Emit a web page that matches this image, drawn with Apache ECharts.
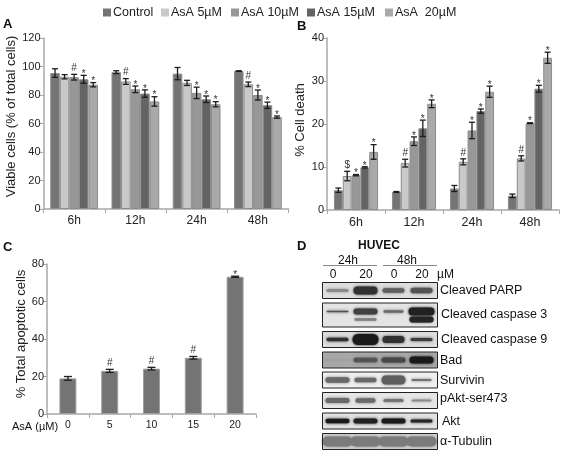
<!DOCTYPE html>
<html><head><meta charset="utf-8">
<style>html,body{margin:0;padding:0;background:#fff}#c{width:563px;height:453px}</style>
<script src="https://cdn.jsdelivr.net/npm/echarts@6/dist/echarts.min.js"></script>
</head><body><div id="c"></div>
<script>
const timepoints = ['6h','12h','24h','48h'];
const doseNames = ['Control','AsA 5µM','AsA 10µM','AsA 15µM','AsA  20µM'];
const doseColors = ['#747474','#c9c9c9','#989898','#646464','#a9a9a9'];

// Panel A: viable cells
const viableControl = [95.4, 96, 95, 96.8];
const viable5 = [92.8, 89.5, 88.5, 87.5];
const viable10 = [92.5, 84, 81.5, 80];
const viable15 = [91, 81, 77, 72.8];
const viable20 = [87.2, 75.5, 73.5, 64.5];
const viableErr = [[3,1,4.3,0.2],[1.5,2,1.8,1.6],[2,2.3,4,3.5],[2.8,2.6,2.3,2.2],[1.5,3.3,1.8,0.8]];
const viableMarks = [['','','',''],['','#','','#'],['#','*','*','*'],['*','*','*','*'],['*','*','*','*']];

// Panel B: cell death
const deathControl = [4.6, 4.2, 5, 3.3];
const death5 = [7.9, 10.9, 11.2, 12];
const death10 = [8.1, 16, 18.5, 20.2];
const death15 = [9.9, 19, 23, 28.2];
const death20 = [13.5, 24.7, 27.5, 35.4];
const deathErr = [[0.5,0.1,0.7,0.4],[1.1,0.9,0.7,0.6],[0.15,1,1.9,0.1],[0.15,1.9,0.5,0.8],[1.7,0.9,1.3,1.3]];
const deathMarks = [['','','',''],['$','#','#','#'],['*','*','*','*'],['*','*','*','*'],['*','*','*','*']];

// Panel C: apoptosis
const asaDoses = ['0','5','10','15','20'];
const apoptotic = [19, 23, 24.2, 30, 73.2];
const apoptoticErr = [1, 0.8, 0.7, 0.7, 0.3];
const apoptoticMarks = ['','#','#','#','*'];

// Panel D: blot names and band darkness per lane
const blotNames = ['Cleaved PARP','Cleaved caspase 3','Cleaved caspase 9','Bad','Survivin','pAkt-ser473','Akt','α-Tubulin'];
const blotDarkness = [
  [0.45,0.85,0.65,0.7],
  [0.7,0.78,0.6,0.92],
  [0.85,0.95,0.85,0.8],
  [0.35,0.7,0.75,0.95],
  [0.6,0.6,0.65,0.55],
  [0.6,0.6,0.55,0.45],
  [0.95,0.92,0.95,0.9],
  [0.52,0.52,0.52,0.52]
];
const blotLower = [null,[0,0.5,0,0.9],null,null,null,null,null,null];

// ---- layout ----
const FONT = '"Liberation Sans", Arial, sans-serif';
const blotTop = [282.5,303,331.5,352,372,392.5,413,433.5];
const blotHeight = [16,24,16,16,16,16,16,16];
const blotBg = ['#dedede','#e4e4e4','#dcdcdc','#a8a8a8','#efefef','#e6e6e6','#e2e2e2','#d2d2d2'];
const laneX = [337.5,365.5,393.5,421.5];
const bandRx = [[11,12,11,11],[11,12,10,13],[11,13,11,11],[11,12,12,12],[12,11,12,10],[12,10,10,10],[12,12,12,11],[15,15,15,15]];
const bandRy = [[1.5,4,2.2,2.8],[0.8,3,1.2,4],[1.8,5.5,3.5,1.5],[1.5,2.2,2.5,3.5],[2.8,2.2,4.5,1],[2.5,2.2,1.5,1],[2.2,2.5,2.5,1.5],[5,5,5,5]];
const labelY = [291,315,340,361,381,399,422,442];
const legendLeft = [98,156,226,302,380];

function errorSeries(xi, yi, rows, gapFrac, capW){
  return {
    type:'custom', xAxisIndex:xi, yAxisIndex:yi, clip:false, z:5, silent:true,
    data: rows,
    encode:{x:0,y:1},
    renderItem(params, api){
      const cat = api.value(0), val = api.value(1), err = api.value(2);
      const slot = api.value(3), nSlots = api.value(4);
      const mark = rows[params.dataIndex][5];
      const barW = api.size([1,0])[0]*(1-gapFrac)/nSlots;
      const c = api.coord([cat,val]);
      const x = c[0] + (slot-(nSlots-1)/2)*barW;
      const yTop = api.coord([cat,val+err])[1];
      const yBot = api.coord([cat,val-err])[1];
      const ls = {stroke:'#1c1c1c',lineWidth:1.3};
      const ch = [
        {type:'line',shape:{x1:x,y1:yTop,x2:x,y2:yBot},style:ls},
        {type:'line',shape:{x1:x-capW/2,y1:yTop,x2:x+capW/2,y2:yTop},style:ls},
        {type:'line',shape:{x1:x-capW/2,y1:yBot,x2:x+capW/2,y2:yBot},style:ls}
      ];
      if(mark){
        const off = mark==='*' ? 5 : 0;
        ch.push({type:'text',style:{text:mark,x:x,y:yTop-1+off,align:'center',verticalAlign:'bottom',
          font:'10px '+FONT,fill:'#333'}});
      }
      return {type:'group',children:ch};
    }
  };
}
function groupedRows(seriesList, errs, marks){
  const out=[];
  seriesList.forEach((s,i)=>s.forEach((v,j)=>out.push([j,v,errs[i][j],i,seriesList.length,marks[i][j]])));
  return out;
}
function barSeries(list,xi,yi,gap){
  return list.map((d,i)=>({type:'bar',name:doseNames[i],xAxisIndex:xi,yAxisIndex:yi,data:d,
    barGap:0,barCategoryGap:gap,itemStyle:{color:doseColors[i],borderColor:'#8c8c8c',borderWidth:1}}));
}
const axisLine={lineStyle:{color:'#a8a8a8',width:1.5}};
const axisTick={length:4,lineStyle:{color:'#a8a8a8',width:1}};

function xAxis(idx,data,size){
  return {type:'category',gridIndex:idx,data:data,axisLine:{show:true,onZero:false,...axisLine},axisTick:{show:true,alignWithLabel:false,...axisTick},
    axisLabel:{color:'#222',fontFamily:FONT,fontSize:size,margin:6,interval:0},splitLine:{show:false}};
}
function yAxis(idx,max,interval,name,gap,size,pad){
  return {type:'value',gridIndex:idx,min:0,max:max,interval:interval,name:name,nameLocation:'middle',nameGap:gap,
    nameTextStyle:{color:'#222',fontFamily:FONT,fontSize:13,padding:pad},
    axisLine:{show:true,...axisLine},axisTick:{show:true,...axisTick},
    axisLabel:{color:'#222',fontFamily:FONT,fontSize:size,margin:3},splitLine:{show:false}};
}

function txt(t,x,y,font,align){
  return {type:'text',silent:true,z:20,style:{text:t,x:x,y:y,font:font,fill:'#111',align:align||'left',verticalAlign:'middle'}};
}
const g=[];
g.push(txt('A',3,24,'bold 13px '+FONT));
g.push(txt('B',297,26,'bold 13px '+FONT));
g.push(txt('C',3,247,'bold 13px '+FONT));
g.push(txt('D',297,246,'bold 13px '+FONT));
g.push(txt('AsA (µM)',12,427,'11px '+FONT));
g.push(txt('HUVEC',379,246,'bold 12px '+FONT,'center'));
g.push(txt('24h',348,261,'12px '+FONT,'center'));
g.push(txt('48h',407,261,'12px '+FONT,'center'));
g.push({type:'line',silent:true,shape:{x1:323,y1:265.5,x2:377,y2:265.5},style:{stroke:'#888',lineWidth:1}});
g.push({type:'line',silent:true,shape:{x1:383,y1:265.5,x2:437,y2:265.5},style:{stroke:'#888',lineWidth:1}});
['0','20','0','20'].forEach((t,i)=>g.push(txt(t,[333,366,394,422][i],274.5,'12px '+FONT,'center')));
g.push(txt('µM',437,274.5,'12px '+FONT));

function gray(d){const v=Math.round(225*(1-d))+15;return 'rgb('+v+','+v+','+v+')';}
function band(cx,cy,rx,ry,d,w){
  return {type:'rect',silent:true,z:11,shape:{x:cx-rx,y:cy-ry,width:2*rx,height:2*ry,r:ry},
    style:{fill:gray(d),shadowBlur:w,shadowColor:gray(d)}};
}
blotNames.forEach((name,i)=>{
  const top=blotTop[i],h=blotHeight[i];
  g.push({type:'rect',silent:true,z:10,shape:{x:322.5,y:top,width:115,height:h},style:{fill:blotBg[i]}});
  const cy = i===1 ? top+8.5 : top+h/2;
  blotDarkness[i].forEach((d,l)=>{
    g.push(band(laneX[l],cy,bandRx[i][l],bandRy[i][l],d,3));
    if(blotLower[i] && blotLower[i][l]>0) g.push(band(laneX[l],top+16.5,bandRx[i][l]-1,l===3?3:1.2,blotLower[i][l],2));
  });
  g.push({type:'rect',silent:true,z:12,shape:{x:322.5,y:top,width:115,height:h},style:{fill:'none',stroke:'#222',lineWidth:1}});
  g.push(txt(name,i===6?442:(i===1||i===2?441:440),labelY[i],'12.5px '+FONT));
});

const chart=echarts.init(document.getElementById('c'),null,{renderer:'canvas'});
chart.setOption({
  animation:false,
  backgroundColor:'#fff',
  legend:doseNames.map((n,i)=>({data:[n],left:legendLeft[i],top:1,itemWidth:8,itemHeight:8,icon:'rect',selectedMode:false,
    itemStyle:{borderWidth:0},textStyle:{color:'#222',fontFamily:FONT,fontSize:12.5,padding:[0,0,0,-3]}})),
  grid:[
    {left:43.5,top:38,width:245,height:171},
    {left:327,top:38,width:232,height:172},
    {left:47,top:264,width:209,height:150}
  ],
  xAxis:[xAxis(0,timepoints,12),xAxis(1,timepoints,12.5),xAxis(2,asaDoses,10.5)],
  yAxis:[
    yAxis(0,120,20,'Viable cells (% of total cells)',24,11,[0,0,0,14]),
    yAxis(1,40,10,'% Cell death',20,11,[0,0,0,8]),
    yAxis(2,80,20,'% Total apoptotic cells',19,11,[0,0,0,10])
  ],
  series:[
    ...barSeries([viableControl,viable5,viable10,viable15,viable20],0,0,'22%'),
    errorSeries(0,0,groupedRows([viableControl,viable5,viable10,viable15,viable20],viableErr,viableMarks),0.22,6),
    ...barSeries([deathControl,death5,death10,death15,death20],1,1,'24%'),
    errorSeries(1,1,groupedRows([deathControl,death5,death10,death15,death20],deathErr,deathMarks),0.24,6),
    {type:'bar',name:'Total apoptotic cells',xAxisIndex:2,yAxisIndex:2,data:apoptotic,barWidth:17,
      itemStyle:{color:'#747474',borderColor:'#a0a0a0',borderWidth:1}},
    errorSeries(2,2,apoptotic.map((v,i)=>[i,v,apoptoticErr[i],0,1,apoptoticMarks[i]]),0,8)
  ],
  graphic:{elements:g}
});
</script></body></html>
